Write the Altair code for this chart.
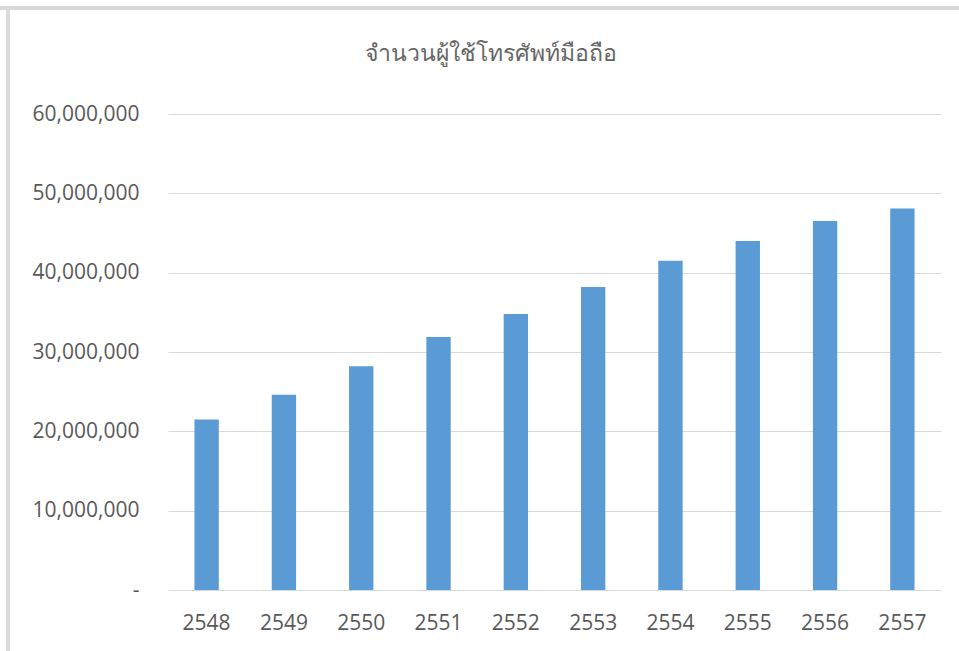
import altair as alt
import pandas as pd

years = ["2548", "2549", "2550", "2551", "2552", "2553", "2554", "2555", "2556", "2557"]
users = [21500000, 24600000, 28200000, 31900000, 34800000, 38200000, 41500000, 44000000, 46500000, 48100000]
y_ticks = [0, 10000000, 20000000, 30000000, 40000000, 50000000, 60000000]
title_text = "จำนวนผู้ใช้โทรศัพท์มือถือ"

df = pd.DataFrame({"year": years, "users": users})

W, H = 773, 476
GRAY = "#595959"

bars = alt.Chart(df).mark_bar(color="#5B9BD5").encode(
    x=alt.X("year:N", sort=years,
            scale=alt.Scale(paddingInner=0.685, paddingOuter=0.342),
            axis=alt.Axis(title=None, labelAngle=0, ticks=False, domain=False, grid=False,
                          labelFontSize=21, labelColor=GRAY, labelFont="Open Sans",
                          labelPadding=22)),
    y=alt.Y("users:Q", scale=alt.Scale(domain=[0, 60000000], nice=False),
            axis=alt.Axis(title=None, values=y_ticks, ticks=False, domain=False,
                          gridColor="#d9d9d9", gridWidth=1.2,
                          labelExpr="datum.value == 0 ? '-' : format(datum.value, ',')",
                          labelFontSize=21, labelColor=GRAY, labelFont="Open Sans",
                          labelPadding=29)),
)

frame_top = alt.Chart(df).mark_rule(color="#d9d9d9", strokeWidth=2.5).encode(
    x=alt.value(-168), x2=alt.value(W + 20), y=alt.value(-106)
)
frame_left = alt.Chart(df).mark_rule(color="#d9d9d9", strokeWidth=2.5).encode(
    x=alt.value(-160), y=alt.value(-107), y2=alt.value(H + 70)
)

chart = alt.layer(bars, frame_top, frame_left).properties(
    width=W, height=H,
    title=alt.Title(title_text, fontSize=23, fontWeight="normal",
                    color="#666666", anchor="middle", dx=-64, offset=-60),
    autosize=alt.AutoSizeParams(type="none"),
    padding={"left": 168, "top": 114, "right": 18, "bottom": 61},
    background="white",
).configure_view(stroke=None)

chart.save("out.html", embed_options={"renderer": "svg", "actions": False})
